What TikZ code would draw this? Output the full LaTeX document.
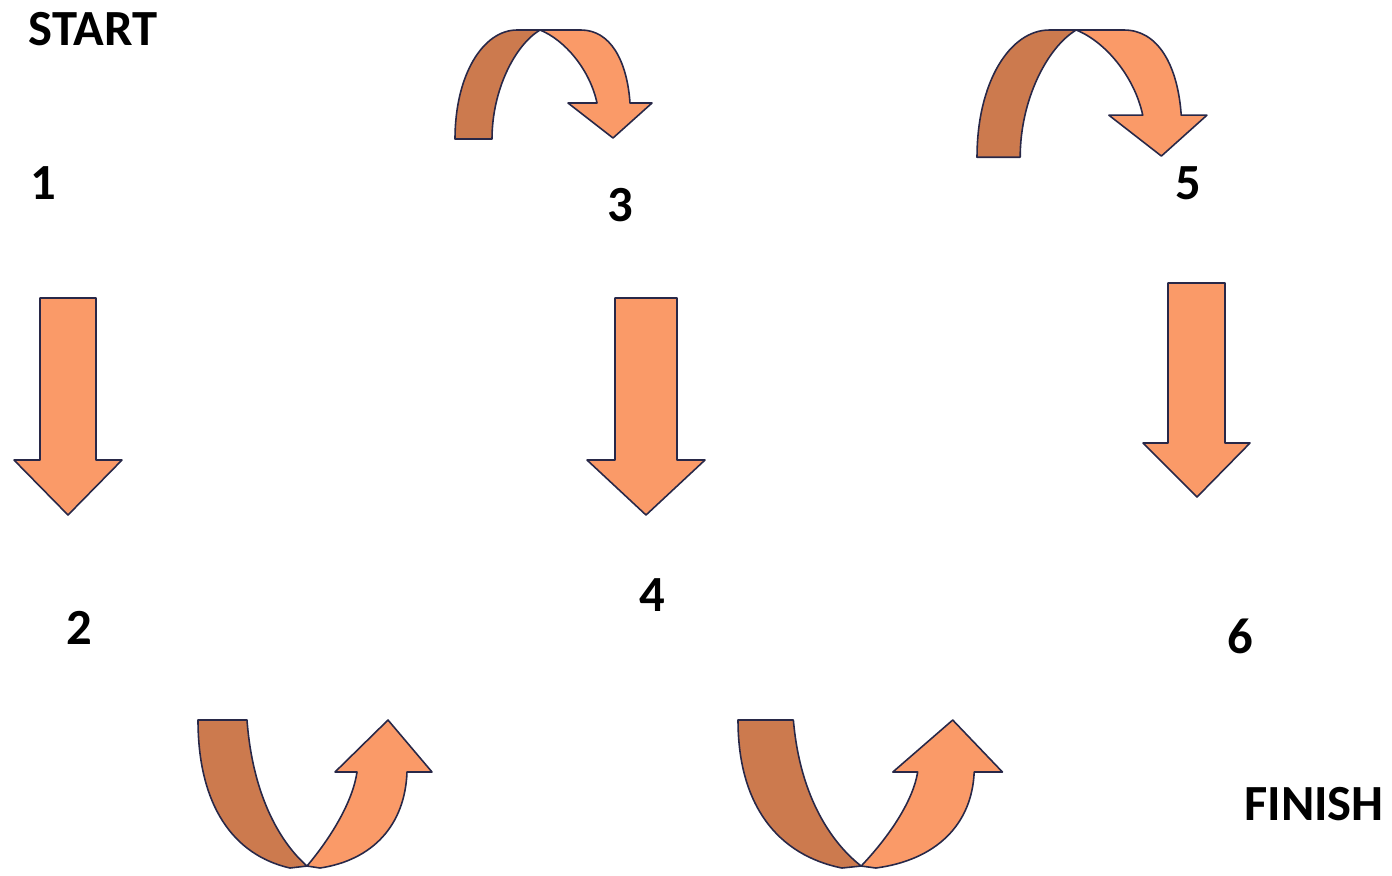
\documentclass[tikz,border=0pt]{standalone}
\usepackage{fontspec}
\setmainfont{Carlito}
\usepackage{tikz}

\definecolor{peach}{RGB}{250,154,104}
\definecolor{rust}{RGB}{204,122,78}
\definecolor{inkline}{RGB}{40,40,72}

% arc arrow going over the top, local origin at left foot / top line
\newcommand{\hoparrow}{%
    \draw[dusk] (0,109) .. controls (0,45) and (28,0) .. (62,0) -- (85,0)
        .. controls (60,15) and (37,60) .. (37,109) -- cycle;
    \draw[lite] (85,0) .. controls (110,10) and (135,40) .. (142,73) -- (113,73) -- (158,108)
        -- (197,73) -- (175,73) .. controls (172,30) and (155,0) .. (126,0) -- cycle;
}
% arc arrow dipping below, local origin at left top corner
\newcommand{\diparrow}{%
    \draw[dusk] (0,0) -- (49,0) .. controls (55,80) and (85,125) .. (109,146) -- (92,148)
        .. controls (35,135) and (0,85) .. (0,0) -- cycle;
    \draw[lite] (109,146) .. controls (135,115) and (155,80) .. (159,52) -- (137,52) -- (190,0)
        -- (234,52) -- (209,52) .. controls (207,105) and (175,140) .. (122,148) -- cycle;
}

\begin{document}
\begin{tikzpicture}[x=0.01cm, y=-0.01cm,
    lite/.style={fill=peach, draw=inkline, line width=0.45pt, line join=round},
    dusk/.style={fill=rust, draw=inkline, line width=0.45pt, line join=round},
    lbl/.style={font=\bfseries\fontsize{14.4}{17}\selectfont, inner sep=0pt}]
    \useasboundingbox (0,0) rectangle (1392,875);

    % straight arrows
    \foreach \sl/\sr/\st/\hy/\hl/\hr/\tx/\ty in {40/96/298/460/14/122/68/515,
        615/677/298/460/587/705/646/515, 1168/1225/283/443/1143/1250/1197/497}
        \draw[lite] (\sl,\st) -- (\sr,\st) -- (\sr,\hy) -- (\hr,\hy) -- (\tx,\ty)
            -- (\hl,\hy) -- (\sl,\hy) -- cycle;

    % curved arrows
    \begin{scope}[shift={(455,30)}] \hoparrow \end{scope}
    \begin{scope}[shift={(977,30)}, scale=1.167] \hoparrow \end{scope}
    \begin{scope}[shift={(198,720)}] \diparrow \end{scope}
    \begin{scope}[shift={(738,720)}, xscale=1.13] \diparrow \end{scope}

    % labels
    \node[lbl] (start) at (93,29) {START};
    \node[lbl] (n1) at (43,183) {1};
    \node[lbl] (n2) at (79,628) {2};
    \node[lbl] (n3) at (620,205) {3};
    \node[lbl] (n4) at (652,595) {4};
    \node[lbl] (n5) at (1188,183) {5};
    \node[lbl] (n6) at (1240,636) {6};
    \node[lbl] (finish) at (1314,804) {FINISH};
\end{tikzpicture}
\end{document}
